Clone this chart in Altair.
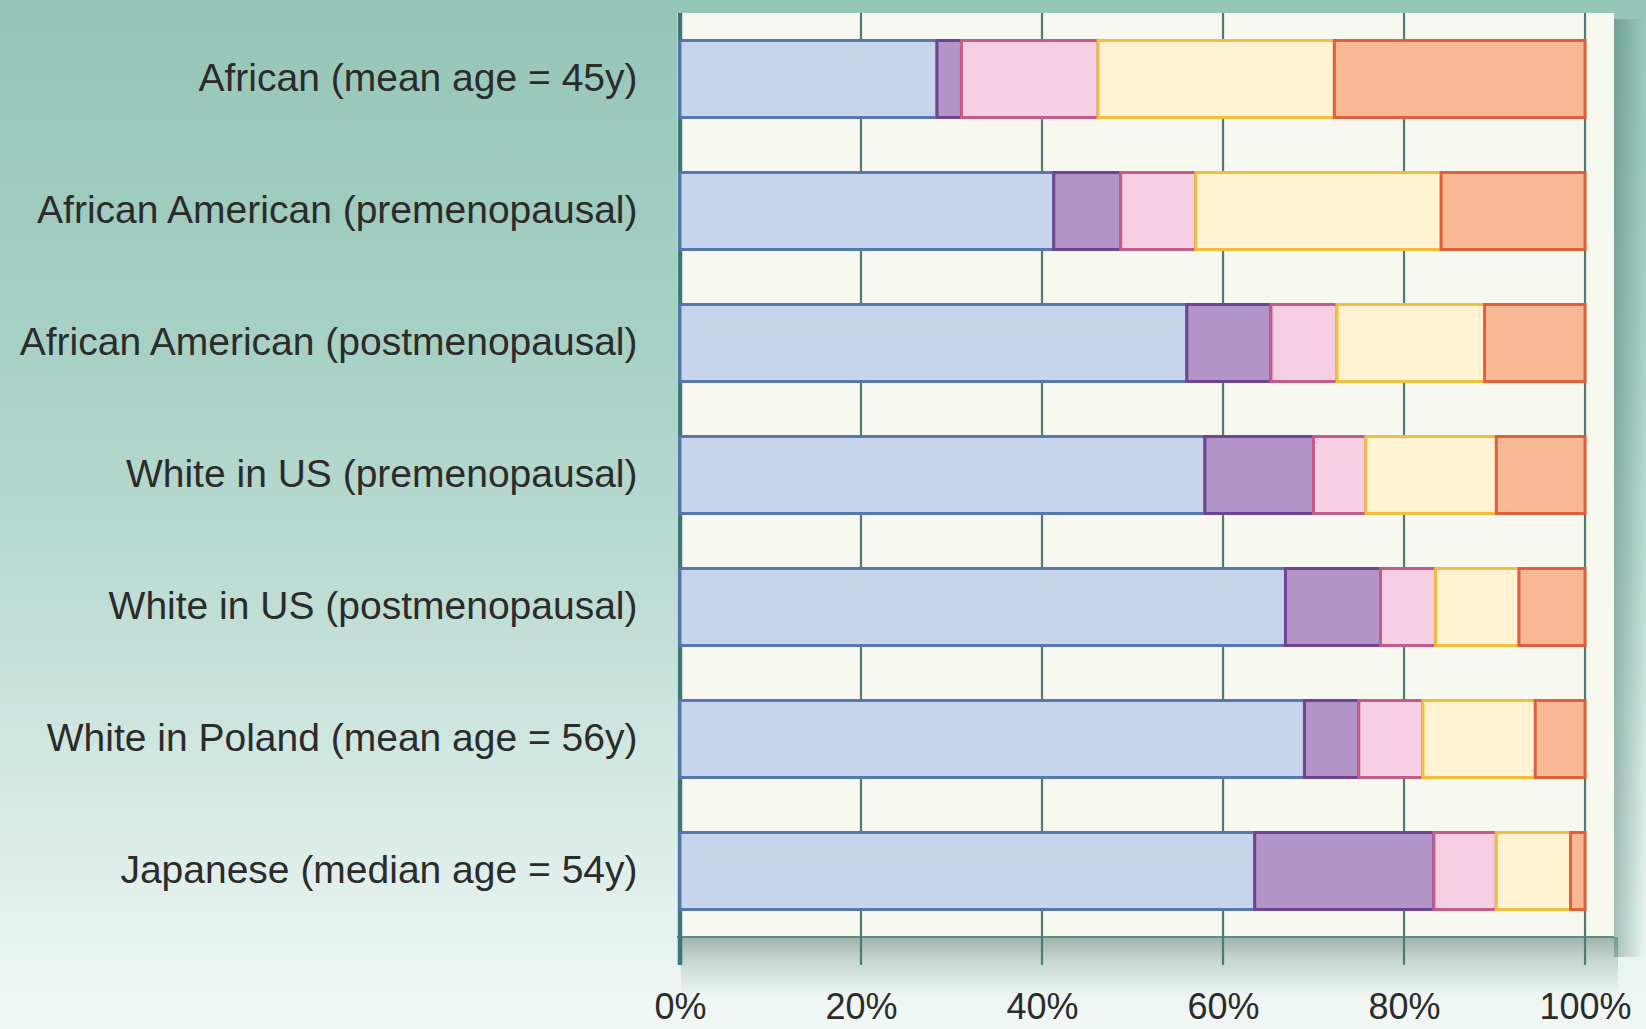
import altair as alt
import pandas as pd

# Population groups (one bar each, top to bottom)
groups = [
    "African (mean age = 45y)",
    "African American (premenopausal)",
    "African American (postmenopausal)",
    "White in US (premenopausal)",
    "White in US (postmenopausal)",
    "White in Poland (mean age = 56y)",
    "Japanese (median age = 54y)",
]

# Five stacked categories, left to right
segments = ["Category 1", "Category 2", "Category 3", "Category 4", "Category 5"]

# Share of each category per group (%)
cat1 = [28.4, 41.3, 56.0, 58.0, 66.9, 69.0, 63.5]
cat2 = [2.7, 7.4, 9.3, 12.0, 10.5, 6.0, 19.8]
cat3 = [15.1, 8.3, 7.3, 5.8, 6.1, 7.1, 6.9]
cat4 = [26.1, 27.1, 16.3, 14.4, 9.2, 12.4, 8.2]
cat5 = [27.7, 15.9, 11.1, 9.8, 7.3, 5.5, 1.6]

tick_values = [0, 20, 40, 60, 80, 100]

fill_colors = ["#c7d5ec", "#b394c8", "#f6cee3", "#fff3d3", "#f7b893"]
stroke_colors = ["#5677b0", "#6d4590", "#c25c8a", "#f0bf3e", "#e0603c"]

rows = []
for gi, g in enumerate(groups):
    for si, (seg, vals) in enumerate(zip(segments, [cat1, cat2, cat3, cat4, cat5])):
        rows.append({"group": g, "segment": seg, "value": vals[gi], "order": si})
df = pd.DataFrame(rows)
ticks_df = pd.DataFrame({"v": tick_values})
one = pd.DataFrame({"k": [0]})

W, H = 937, 924
PAD = {"left": 677, "top": 13, "right": 1646 - 677 - W, "bottom": 1029 - 13 - H}
FONT = "Liberation Sans"
TEXT = "#2b2b2b"

xscale = alt.Scale(domain=[-0.33, 103.2], nice=False, zero=False)
yscale = alt.Scale(domain=groups, paddingInner=0.4167, paddingOuter=0.2085)

x_axis = alt.Axis(
    values=tick_values,
    labelExpr="datum.value + '%'",
    title=None,
    grid=False,
    domain=False,
    ticks=False,
    tickSize=0,
    labelPadding=81,
    labelBaseline="alphabetic",
    labelFontSize=36,
    labelFont=FONT,
    labelColor=TEXT,
    labelFlush=False,
    labelOverlap=False,
    zindex=1,
)
y_axis = alt.Axis(
    title=None,
    grid=False,
    domain=False,
    ticks=False,
    tickSize=0,
    labelPadding=40,
    labelFontSize=39,
    labelFont=FONT,
    labelColor=TEXT,
    labelLimit=800,
    zindex=1,
)

# Page background: teal fading to near white toward the bottom
background = alt.Chart(one).mark_rect(
    clip=False,
    fill=alt.Gradient(
        gradient="linear",
        stops=[
            alt.GradientStop(offset=0.0, color="#96c6b8"),
            alt.GradientStop(offset=0.3, color="#a4cfc3"),
            alt.GradientStop(offset=0.55, color="#bbdbd2"),
            alt.GradientStop(offset=0.75, color="#d3e8e2"),
            alt.GradientStop(offset=0.9, color="#e6f2ef"),
            alt.GradientStop(offset=1.0, color="#f1f7f5"),
        ],
        x1=0, x2=0, y1=0, y2=1,
    ),
).encode(
    x=alt.value(-PAD["left"]), x2=alt.value(W + PAD["right"]),
    y=alt.value(-PAD["top"]), y2=alt.value(H + PAD["bottom"]),
)

# Soft drop shadow below the panel and along its right side
shadow_bottom = alt.Chart(one).mark_rect(
    clip=False,
    fill=alt.Gradient(
        gradient="linear",
        stops=[
            alt.GradientStop(offset=0.0, color="rgba(55,90,75,0.42)"),
            alt.GradientStop(offset=0.35, color="rgba(55,90,75,0.22)"),
            alt.GradientStop(offset=1.0, color="rgba(55,90,75,0)"),
        ],
        x1=0, x2=0, y1=0, y2=1,
    ),
).encode(x=alt.value(4), x2=alt.value(W + 4), y=alt.value(H), y2=alt.value(H + 58))

shadow_right = alt.Chart(one).mark_rect(
    clip=False,
    fill=alt.Gradient(
        gradient="linear",
        stops=[
            alt.GradientStop(offset=0.0, color="rgba(40,95,80,0.35)"),
            alt.GradientStop(offset=1.0, color="rgba(40,95,80,0)"),
        ],
        x1=0, x2=1, y1=0, y2=0,
    ),
).encode(x=alt.value(W), x2=alt.value(W + 30), y=alt.value(6), y2=alt.value(H + 20))

# Light plotting panel
panel = alt.Chart(one).mark_rect(clip=False, color="#f7f8ef").encode(
    x=alt.value(0), x2=alt.value(W), y=alt.value(0), y2=alt.value(H),
)
panel_edge = alt.Chart(one).mark_rule(clip=False, color="#5f8d7f", strokeWidth=2).encode(
    x=alt.value(0), x2=alt.value(W), y=alt.value(H),
)

# Vertical gridlines that run down past the panel as ticks
grid = alt.Chart(ticks_df).mark_rule(clip=False).encode(
    x=alt.X("v:Q", scale=xscale, axis=x_axis),
    y=alt.value(0),
    y2=alt.value(H + 28),
    strokeWidth=alt.condition("datum.v === 0", alt.value(4.5), alt.value(2.2)),
    color=alt.condition("datum.v === 0", alt.value("#3c767a"), alt.value("#4d7a73")),
)

bars = alt.Chart(df).mark_bar(strokeWidth=3).encode(
    x=alt.X("value:Q", stack="zero", scale=xscale, axis=x_axis),
    y=alt.Y("group:N", sort=groups, scale=yscale, axis=y_axis),
    color=alt.Color("segment:N", scale=alt.Scale(domain=segments, range=fill_colors), legend=None),
    stroke=alt.Stroke("segment:N", scale=alt.Scale(domain=segments, range=stroke_colors), legend=None),
    order=alt.Order("order:Q"),
)

chart = alt.layer(
    background, shadow_bottom, shadow_right, panel, panel_edge, grid, bars
).properties(
    width=W,
    height=H,
    padding=PAD,
    autosize=alt.AutoSizeParams(type="none"),
    background="#eef6f4",
).configure_view(stroke=None)

chart.save("out.html", embed_options={"renderer": "svg", "actions": False})
